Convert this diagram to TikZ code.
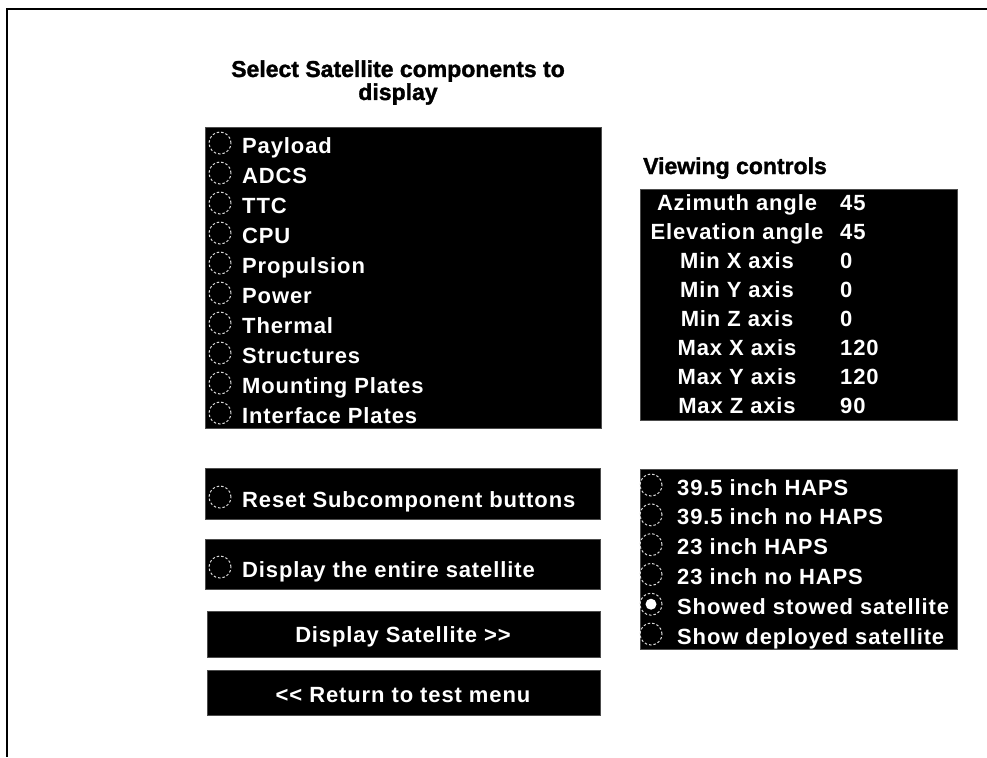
\documentclass[tikz,border=0pt]{standalone}
\usepackage{fontspec}
\setmainfont{Liberation Sans}
\newfontfamily\uifont[LetterSpace=4]{Liberation Sans}
\newfontfamily\headfont[FakeBold=1.5]{Liberation Sans}
\begin{document}
\begin{tikzpicture}[x=1pt,y=-1pt,
  panel/.style={fill=black,draw=black!70,line width=0.6pt,inner sep=0pt,anchor=north west},
  item/.style={text=white,font=\uifont\bfseries\fontsize{22}{26}\selectfont,inner sep=0pt},
  heading/.style={text=black,font=\headfont\bfseries\fontsize{23}{23}\selectfont,inner sep=0pt,anchor=base},
  radio/.style={circle,draw=white!85!black,dash pattern=on 2.5pt off 2pt,line width=1pt,minimum size=22pt,inner sep=0pt},
  dot/.style={circle,fill=white,minimum size=11pt,inner sep=0pt}]
\useasboundingbox (0,0) rectangle (987,757);
\fill[white] (0,0) rectangle (987,757);
% frame
\coordinate (ftr) at (987,9);
\coordinate (ftl) at (7,9);
\coordinate (fbl) at (7,757);
\draw[line width=2.2pt] (ftr) -- (ftl) -- (fbl);
% headings
\node[heading] (t1) at (398,77) {Select Satellite components to};
\node[heading] (t2) at (398,100) {display};
\node[heading,anchor=base west] (t3) at (643,174) {Viewing controls};
% component list
\node[panel,minimum width=396pt,minimum height=301pt] (comp) at (205,127) {};
\foreach \t [count=\i from 0] in {Payload,ADCS,TTC,CPU,Propulsion,Power,Thermal,Structures,Mounting Plates,Interface Plates}{
  \node[radio] (cr\i) at (220,143+30*\i) {};
  \node[item,anchor=base west] (ct\i) at (242,153+30*\i) {\t};
}
% viewing controls
\node[panel,minimum width=317pt,minimum height=231pt] (view) at (640,189) {};
\foreach \l/\v [count=\i from 0] in {Azimuth angle/45,Elevation angle/45,Min X axis/0,Min Y axis/0,Min Z axis/0,Max X axis/120,Max Y axis/120,Max Z axis/90}{
  \node[item,anchor=base] (vl\i) at (737,210+29*\i) {\l};
  \node[item,anchor=base west] (vv\i) at (840,210+29*\i) {\v};
}
% buttons
\node[panel,minimum width=395pt,minimum height=51pt] (reset) at (205,468) {};
\node[radio] (rr) at (220,497) {};
\node[item,anchor=base west] (rt) at (242,507) {Reset Subcomponent buttons};
\node[panel,minimum width=395pt,minimum height=50pt] (entire) at (205,539) {};
\node[radio] (er) at (220,567) {};
\node[item,anchor=base west] (et) at (242,577) {Display the entire satellite};
\node[panel,minimum width=393pt,minimum height=46pt] (disp) at (207,611) {};
\node[item,anchor=base] (dt) at (403,642) {Display Satellite >{}>};
\node[panel,minimum width=393pt,minimum height=45pt] (ret) at (207,670) {};
\node[item,anchor=base] (rtt) at (403,702) {<{}< Return to test menu};
% model options
\node[panel,minimum width=317pt,minimum height=180pt] (opts) at (640,469) {};
\foreach \t [count=\i from 0] in {39.5 inch HAPS,39.5 inch no HAPS,23 inch HAPS,23 inch no HAPS,Showed stowed satellite,Show deployed satellite}{
  \node[radio] (or\i) at (651,485+29.8*\i) {};
  \node[item,anchor=base west] (ot\i) at (677,495+29.8*\i) {\t};
}
\node[dot] (sel) at (or4) {};
\end{tikzpicture}
\end{document}
